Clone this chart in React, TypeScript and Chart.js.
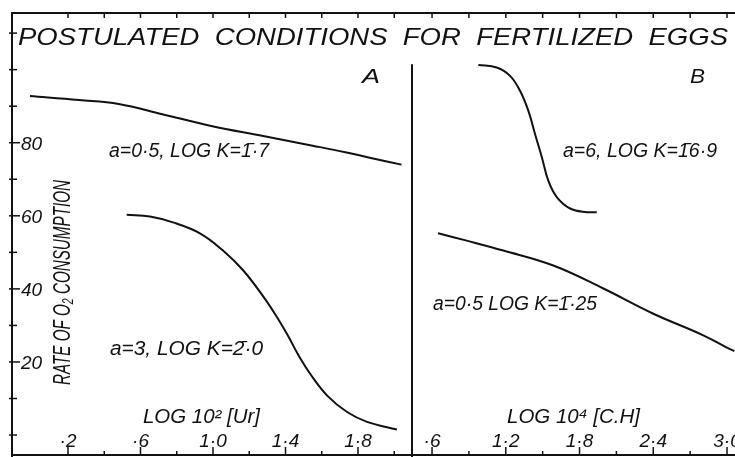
import React, { useEffect, useRef } from "react";
import { Chart, registerables } from "chart.js";

Chart.register(...registerables);

// ---------- Panel A: LOG 10² [Ur] ----------
const curveA1X = [-0.01, 0.26, 0.48, 0.72, 0.99, 1.27, 1.55, 1.73, 1.89, 2.04];
const curveA1Y = [92.8, 91.7, 90.6, 87.8, 84.6, 81.9, 79.2, 77.4, 75.6, 74.0];

const curveA2X = [0.524, 0.652, 0.779, 0.928, 1.055, 1.166, 1.276, 1.35, 1.41, 1.47, 1.54, 1.63, 1.74, 1.85, 2.015];
const curveA2Y = [60.3, 59.8, 58.2, 55.2, 50.5, 45.1, 38.0, 32.5, 27.5, 22.0, 16.5, 10.8, 6.3, 3.6, 1.5];

// ---------- Panel B: LOG 10⁴ [C.H] ----------
const curveB1X = [0.977, 1.126, 1.235, 1.316, 1.384, 1.438, 1.493, 1.546, 1.615, 1.723, 1.859, 1.94];
const curveB1Y = [101.3, 100.6, 98.3, 94.2, 88.7, 82.4, 76.1, 69.6, 65.1, 62.0, 61.0, 61.0];

const curveB2X = [0.649, 0.882, 1.18, 1.587, 1.994, 2.401, 2.807, 3.011, 3.06];
const curveB2Y = [55.2, 53.2, 50.5, 46.4, 40.1, 33.2, 27.3, 23.7, 23.0];

// ---------- Axes ----------
const yTickValues = [0, 10, 20, 30, 40, 50, 60, 70, 80, 90, 100, 110];
const yLabelValues = [20, 40, 60, 80];
const yLabelTexts = ["20", "40", "60", "80"];

const xMajorA = [0.2, 0.6, 1.0, 1.4, 1.8];
const xMajorLabelsA = ["·2", "·6", "1·0", "1·4", "1·8"];
const xMinorA = [0.4, 0.8, 1.2, 1.6, 2.0];
const xTopA = [0.2, 0.4, 0.6, 0.8, 1.0, 1.2, 1.4, 1.6, 1.8, 2.0];

const xMajorB = [0.6, 1.2, 1.8, 2.4, 3.0];
const xMajorLabelsB = ["·6", "1·2", "1·8", "2·4", "3·0"];
const xMinorB = [0.9, 1.5, 2.1, 2.7];
const xTopB = [0.6, 0.9, 1.2, 1.5, 1.8, 2.1, 2.4, 2.7, 3.0];

// ---------- Texts ----------
const titleText = "POSTULATED  CONDITIONS  FOR  FERTILIZED  EGGS";
const yTitle = "RATE OF O\u2082 CONSUMPTION";
const panelA = "A";
const panelB = "B";
const labelA1 = "a=0·5, LOG K=1\u0304·7";
const labelA2 = "a=3, LOG K=2\u0304·0";
const xTitleA = "LOG 10\u00B2 [Ur]";
const labelB1 = "a=6, LOG K=1\u03046·9";
const labelB2 = "a=0·5 LOG K=1\u0304·25";
const xTitleB = "LOG 10\u2074 [C.H]";

const INK = "#111";
const FONT = '"Liberation Sans", "DejaVu Sans", sans-serif';
const W = 735;
const H = 457;

const Y_MIN = -5.46;
const Y_MAX = 115.5;

function txt(
  ctx: CanvasRenderingContext2D,
  s: string,
  x: number,
  y: number,
  size: number,
  opts: { width?: number; align?: "left" | "center"; rotate?: number } = {}
) {
  ctx.save();
  ctx.font = `italic ${size}px ${FONT}`;
  ctx.fillStyle = INK;
  ctx.textBaseline = "alphabetic";
  ctx.textAlign = "left";
  ctx.translate(x, y);
  if (opts.rotate) ctx.rotate(opts.rotate);
  const m = ctx.measureText(s).width;
  const sx = opts.width ? opts.width / m : 1;
  ctx.scale(sx, 1);
  const dx = opts.align === "center" ? -m / 2 : 0;
  ctx.fillText(s, dx, 0);
  ctx.restore();
}

function line(ctx: CanvasRenderingContext2D, x1: number, y1: number, x2: number, y2: number, w = 2) {
  ctx.save();
  ctx.strokeStyle = INK;
  ctx.lineWidth = w;
  ctx.lineCap = "butt";
  ctx.beginPath();
  ctx.moveTo(x1, y1);
  ctx.lineTo(x2, y2);
  ctx.stroke();
  ctx.restore();
}

function pts(xs: number[], ys: number[]) {
  return xs.map((x, i) => ({ x, y: ys[i] }));
}

function ds(xs: number[], ys: number[]) {
  return {
    data: pts(xs, ys),
    borderColor: INK,
    borderWidth: 2,
    pointRadius: 0,
    fill: false,
    tension: 0.4,
  };
}

const framePluginA = {
  id: "frameA",
  afterDraw(chart: any) {
    const ctx: CanvasRenderingContext2D = chart.ctx;
    const { left, top, right, bottom } = chart.chartArea;
    const xs = chart.scales.x;
    const ys = chart.scales.y;
    // frame
    line(ctx, left, top, W, top);
    line(ctx, left, top - 1, left, H);
    line(ctx, left, bottom, W, bottom);
    line(ctx, right, ys.getPixelForValue(101.5), right, H);
    // top ticks
    xTopA.forEach((v) => {
      const px = xs.getPixelForValue(v);
      line(ctx, px, top, px, top + 5, 1.5);
    });
    // bottom ticks
    xMajorA.forEach((v, i) => {
      const px = xs.getPixelForValue(v);
      line(ctx, px, bottom, px, bottom - 8, 1.5);
      txt(ctx, xMajorLabelsA[i], px, bottom - 8, 19, { align: "center" });
    });
    xMinorA.forEach((v) => {
      const px = xs.getPixelForValue(v);
      line(ctx, px, bottom, px, bottom - 4, 1.5);
    });
    // y ticks
    yTickValues.forEach((v) => {
      const py = ys.getPixelForValue(v);
      const lab = yLabelValues.indexOf(v);
      line(ctx, left - 3, py, left + (lab >= 0 ? 8 : 5), py, 1.5);
      if (lab >= 0) {
        txt(ctx, yLabelTexts[lab], left + 9, py + 7, 19);
      }
    });
    // title
    txt(ctx, titleText, 18, 45, 24, { width: 710 });
    // y title
    txt(ctx, yTitle, 70, 385, 24, { rotate: -Math.PI / 2, width: 205 });
    // panel labels
    txt(ctx, panelA, 362, 83, 21, { width: 18 });
    txt(ctx, labelA1, 109, 157, 20, { width: 160 });
    txt(ctx, labelA2, 110, 355, 20, { width: 153 });
    txt(ctx, xTitleA, 143, 423, 20, { width: 117 });
  },
};

const framePluginB = {
  id: "frameB",
  afterDraw(chart: any) {
    const ctx: CanvasRenderingContext2D = chart.ctx;
    const { top, bottom } = chart.chartArea;
    const xs = chart.scales.x;
    xTopB.forEach((v) => {
      const px = xs.getPixelForValue(v);
      line(ctx, px, top, px, top + 5, 1.5);
    });
    xMajorB.forEach((v, i) => {
      const px = xs.getPixelForValue(v);
      line(ctx, px, bottom, px, bottom - 8, 1.5);
      txt(ctx, xMajorLabelsB[i], px, bottom - 8, 19, { align: "center" });
    });
    xMinorB.forEach((v) => {
      const px = xs.getPixelForValue(v);
      line(ctx, px, bottom, px, bottom - 4, 1.5);
    });
    txt(ctx, panelB, 690, 83, 21, { width: 15 });
    txt(ctx, labelB1, 563, 157, 20, { width: 154 });
    txt(ctx, labelB2, 433, 310, 20, { width: 164 });
    txt(ctx, xTitleB, 507, 423, 20, { width: 133 });
  },
};

function makeOptions(padding: any, xmin: number, xmax: number) {
  return {
    responsive: false,
    maintainAspectRatio: false,
    animation: false as const,
    events: [] as any[],
    layout: { padding },
    plugins: {
      legend: { display: false },
      title: { display: false },
      tooltip: { enabled: false },
    },
    scales: {
      x: { type: "linear" as const, display: false, min: xmin, max: xmax },
      y: { type: "linear" as const, display: false, min: Y_MIN, max: Y_MAX },
    },
  };
}

export default function App() {
  const refA = useRef<HTMLCanvasElement>(null);
  const refB = useRef<HTMLCanvasElement>(null);

  useEffect(() => {
    const chartA = new Chart(refA.current!, {
      type: "line",
      data: { datasets: [ds(curveA1X, curveA1Y), ds(curveA2X, curveA2Y)] },
      options: makeOptions({ left: 12, top: 13, right: W - 412, bottom: 2 }, -0.109, 2.098) as any,
      plugins: [framePluginA],
    });
    const chartB = new Chart(refB.current!, {
      type: "line",
      data: { datasets: [ds(curveB1X, curveB1Y), ds(curveB2X, curveB2Y)] },
      options: makeOptions({ left: 412, top: 13, right: 0, bottom: 2 }, 0.437, 3.065) as any,
      plugins: [framePluginB],
    });
    return () => {
      chartA.destroy();
      chartB.destroy();
    };
  }, []);

  return (
    <div style={{ position: "absolute", left: 0, top: 0, width: W, height: H, background: "#fff" }}>
      <canvas ref={refA} width={W} height={H} style={{ position: "absolute", left: 0, top: 0 }} />
      <canvas ref={refB} width={W} height={H} style={{ position: "absolute", left: 0, top: 0 }} />
    </div>
  );
}
